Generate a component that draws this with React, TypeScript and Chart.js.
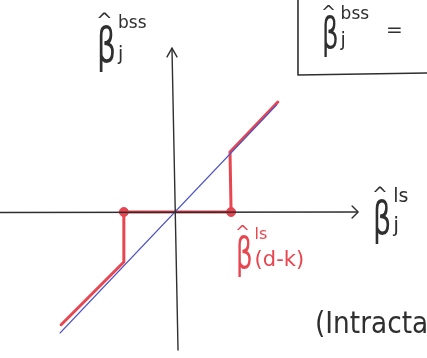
import React, { useEffect, useRef } from "react";
import { Chart, registerables } from "chart.js";

Chart.register(...registerables);

// Best-subset (hard threshold) estimate against the least-squares estimate.
// Red path: beta_bss as a function of beta_ls.
const bssX = [-2.07, -0.93, -0.93, 1.02, 1.0, 1.87];
const bssY = [-2.05, -0.91, 0, 0, 1.09, 2.0];

// Threshold points on the horizontal axis (± beta_ls of rank d-k).
const thresholdX = [-0.93, 1.02];
const thresholdY = [0, 0];

// Identity reference line beta_bss = beta_ls.
const identityX = [-2.09, 1.85];
const identityY = [-2.2, 1.95];

// Coordinate axes with arrow heads.
const hAxisX = [-3.2, 3.31];
const hAxisY = [-0.01, 0];
const hArrowX = [3.22, 3.33, 3.22];
const hArrowY = [0.11, 0, -0.11];
const vAxisX = [-0.055, 0.055];
const vAxisY = [2.98, -2.51];
const vArrowX = [-0.145, -0.055, 0.036];
const vArrowY = [2.82, 2.98, 2.82];

// Frame around the formula in the corner.
const boxX = [2.236, 2.236, 4.6];
const boxY = [3.9, 2.49, 2.527];

const INK = "#2f2f2f";
const RED = "#e7454f";
const BLUE = "#4f55c4";
const FONT = '"DejaVu Sans"';

const pts = (xs: number[], ys: number[]) => xs.map((x, i) => ({ x, y: ys[i] }));

type Label = {
  x: number;
  y: number;
  color: string;
  size: number;
  sup: string;
  sub: string;
  supSize: number;
  subSize: number;
};

function drawBetaHat(ctx: CanvasRenderingContext2D, l: Label) {
  ctx.save();
  ctx.fillStyle = l.color;
  ctx.textBaseline = "alphabetic";
  // hat
  ctx.font = `${Math.round(l.size * 0.42)}px ${FONT}`;
  ctx.fillText("^", l.x - 1, l.y - l.size * 0.72);
  // beta, narrowed like a hand-written one
  ctx.save();
  ctx.translate(l.x, l.y);
  ctx.scale(0.62, 1);
  ctx.font = `${l.size}px ${FONT}`;
  ctx.fillText("β", 0, 0);
  ctx.restore();
  ctx.font = `${l.size}px ${FONT}`;
  const bw = ctx.measureText("β").width * 0.62;
  ctx.font = `${l.supSize}px ${FONT}`;
  ctx.fillText(l.sup, l.x + bw + 2, l.y - l.size * 0.7);
  ctx.font = `${l.subSize}px ${FONT}`;
  ctx.fillText(l.sub, l.x + bw + 2, l.y - l.size * 0.05);
  ctx.restore();
}

const textPlugin = {
  id: "sketchText",
  afterDatasetsDraw(chart: Chart) {
    const ctx = chart.ctx;
    drawBetaHat(ctx, { x: 97, y: 62, color: INK, size: 48, sup: "bss", sub: "j", supSize: 17, subSize: 19 });
    drawBetaHat(ctx, { x: 322, y: 48, color: INK, size: 42, sup: "bss", sub: "j", supSize: 17, subSize: 19 });
    drawBetaHat(ctx, { x: 373, y: 234, color: INK, size: 46, sup: "ls", sub: "j", supSize: 19, subSize: 21 });
    drawBetaHat(ctx, { x: 236, y: 268, color: RED, size: 42, sup: "ls", sub: "(d-k)", supSize: 16, subSize: 21 });
    ctx.save();
    ctx.fillStyle = INK;
    ctx.font = `20px ${FONT}`;
    ctx.fillText("=", 386, 36);
    ctx.translate(315, 333);
    ctx.scale(0.88, 1);
    ctx.font = `30px ${FONT}`;
    ctx.fillText("(Intractable", 0, 0);
    ctx.restore();
  },
};

export default function App() {
  const ref = useRef<HTMLCanvasElement | null>(null);

  useEffect(() => {
    if (!ref.current) return;
    const line = (data: { x: number; y: number }[], color: string, width: number) => ({
      data,
      showLine: true,
      clip: false as const,
      borderColor: color,
      backgroundColor: color,
      borderWidth: width,
      pointRadius: 0,
      tension: 0,
      borderCapStyle: "round" as const,
      borderJoinStyle: "round" as const,
    });
    const chart = new Chart(ref.current, {
      type: "scatter",
      data: {
        datasets: [
          line(pts(hAxisX, hAxisY), INK, 1.4),
          line(pts(hArrowX, hArrowY), INK, 1.4),
          line(pts(vAxisX, vAxisY), INK, 1.4),
          line(pts(vArrowX, vArrowY), INK, 1.4),
          line(pts(boxX, boxY), INK, 1.6),
          line(pts(identityX, identityY), BLUE, 1.1),
          line(pts(bssX, bssY), RED, 3),
          {
            data: pts(thresholdX, thresholdY),
            showLine: false,
            clip: false as const,
            pointRadius: 4.5,
            pointBackgroundColor: RED,
            pointBorderColor: RED,
          },
        ],
      },
      options: {
        animation: false,
        responsive: true,
        maintainAspectRatio: false,
        layout: { padding: 0, autoPadding: false },
        plugins: { legend: { display: false }, tooltip: { enabled: false } },
        events: [],
        scales: {
          x: { type: "linear", display: false, min: -175 / 55, max: 252 / 55 },
          y: { type: "linear", display: false, min: -146 / 55, max: 212 / 55 },
        },
      },
      plugins: [textPlugin],
    });
    return () => chart.destroy();
  }, []);

  return (
    <div style={{ position: "fixed", left: 0, top: 0, width: 427, height: 358, background: "#fff" }}>
      <canvas ref={ref} />
    </div>
  );
}
